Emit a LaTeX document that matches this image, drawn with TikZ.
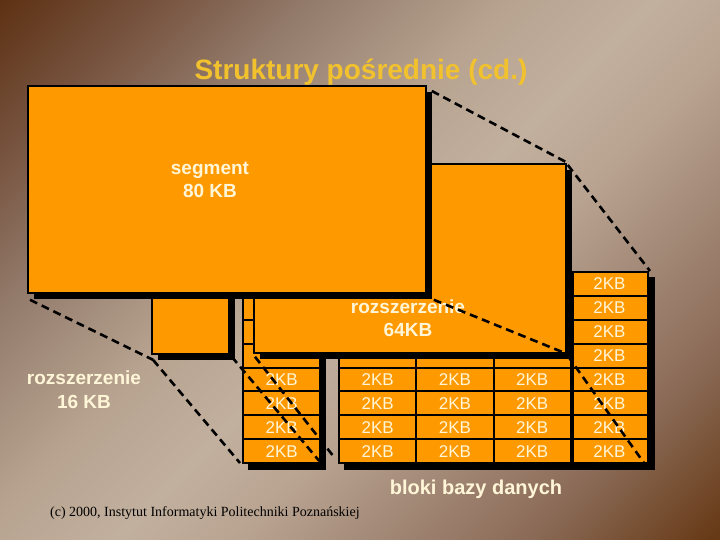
\documentclass[tikz,border=0pt]{standalone}
\usepackage{fontspec}
\setmainfont{Liberation Sans}
\newfontfamily\footserif{Liberation Serif}
\usetikzlibrary{shadows}
\definecolor{orng}{HTML}{FF9900}
\definecolor{cream}{HTML}{FFF6D8}
\definecolor{ttl}{HTML}{F2C12E}
\definecolor{bgcA}{HTML}{5E3214}
\definecolor{bgcB}{HTML}{76523E}
\definecolor{bgcC}{HTML}{947C6C}
\definecolor{bgcD}{HTML}{B6A28F}
\definecolor{bgcE}{HTML}{C2B09E}
\definecolor{bgcF}{HTML}{B8A390}
\definecolor{bgcG}{HTML}{A48A78}
\definecolor{bgcH}{HTML}{8A6A56}
\definecolor{bgcI}{HTML}{663814}
\pgfdeclarehorizontalshading{bgsh}{100bp}{color(0bp)=(bgcA); color(14.6bp)=(bgcA); color(23.1bp)=(bgcB); color(32.3bp)=(bgcC); color(42.9bp)=(bgcD); color(51.4bp)=(bgcE); color(58.5bp)=(bgcF); color(65.6bp)=(bgcG); color(74.8bp)=(bgcH); color(85.4bp)=(bgcI); color(100bp)=(bgcI)}
\begin{document}
\begin{tikzpicture}[x=1pt,y=-1pt,
  blk/.style={draw=black, line width=1.8pt, fill=orng, inner sep=0pt, anchor=north west},
  shd/.style={drop shadow={fill=black, opacity=1, shadow xshift=6pt, shadow yshift=-6pt}},
  cell/.style={draw=black, line width=2pt, fill=orng, inner sep=0pt, minimum width=77.25pt, minimum height=23.875pt, anchor=north west, text=cream, font=\fontsize{17}{18}\selectfont},
  lbl/.style={text=cream, font=\bfseries\fontsize{19}{23}\selectfont, anchor=base, inner sep=0pt},
  link/.style={draw=black, line width=2.6pt, dash pattern=on 8pt off 5pt}
]
\useasboundingbox (0,0) rectangle (720,540);
\shade[shading=bgsh, shading angle=-45] (0,0) rectangle (720,540);

% title
\node[anchor=base, inner sep=0pt, text=ttl, font=\bfseries\fontsize{28}{30}\selectfont] (title) at (361,80) {Struktury pośrednie (cd.)};

% grid shadows
\fill[black] (248,277) rectangle (326,470);
\fill[black] (344,277) rectangle (655,470);

% column A (16KB blocks)
\foreach \r in {1,...,8}
  \node[cell] (a\r) at (242,{271+(\r-1)*23.875}) {\ifnum\r>4\relax 2KB\fi};

% columns B-E (64KB blocks)
\foreach \cn/\xx/\fl in {b/338/4, c/415.25/4, d/492.5/4, e/569.75/0}
  \foreach \r in {1,...,8}
    \node[cell] (\cn\r) at (\xx,{271+(\r-1)*23.875}) {\ifnum\r>\fl\relax 2KB\fi};
\draw[line width=4pt] (d1.north east) -- (d8.south east);

% extension boxes
\node[blk, shd, minimum width=77pt, minimum height=190pt] (k16) at (151,163) {};
\node[blk, shd, minimum width=312pt, minimum height=189pt] (k64) at (253,163) {};
\node[lbl] (t64a) at (408,313) {rozszerzenie};
\node[lbl] (t64b) at (408,336) {64KB};

% segment
\node[blk, shd, minimum width=398pt, minimum height=207pt] (seg) at (27,85) {};
\node[lbl] (tsega) at (210,175) {segment};
\node[lbl] (tsegb) at (210,198) {80 KB};

% labels on background
\node[lbl] (t16a) at (84,384) {rozszerzenie};
\node[lbl] (t16b) at (84,408) {16 KB};
\node[lbl, font=\bfseries\fontsize{20}{23}\selectfont] (bloki) at (476,494) {bloki bazy danych};
\node[anchor=base west, inner sep=0pt, text=black, font=\footserif\fontsize{14}{16}\selectfont] (foot) at (50,516) {(c) 2000, Instytut Informatyki Politechniki Poznańskiej};

% dashed links
\draw[link] ([shift={(3,6)}]seg.south west) -- ([shift={(2,5)}]k16.south west);
\draw[link] ([shift={(2,5)}]k16.south west) -- ([shift={(-2,-1)}]a8.south west);
\draw[link] ([shift={(2,2)}]k16.south east) -- ([shift={(-2,-3)}]a8.south east);
\draw[link] ([shift={(5,6)}]seg.north east) -- ([shift={(1,0)}]k64.north east);
\draw[link] ([shift={(7,6)}]seg.south east) -- ([shift={(0,0)}]k64.south east);
\draw[link] ([shift={(1,2)}]k64.north east) -- ([shift={(1,0)}]e1.north east);
\draw[link] ([shift={(1,2)}]k64.south east) -- ([shift={(-5,-1)}]e8.south east);
\draw[link] ([shift={(2,3)}]k64.south west) -- ([shift={(-4,-7)}]b8.south west);
\end{tikzpicture}
\end{document}
